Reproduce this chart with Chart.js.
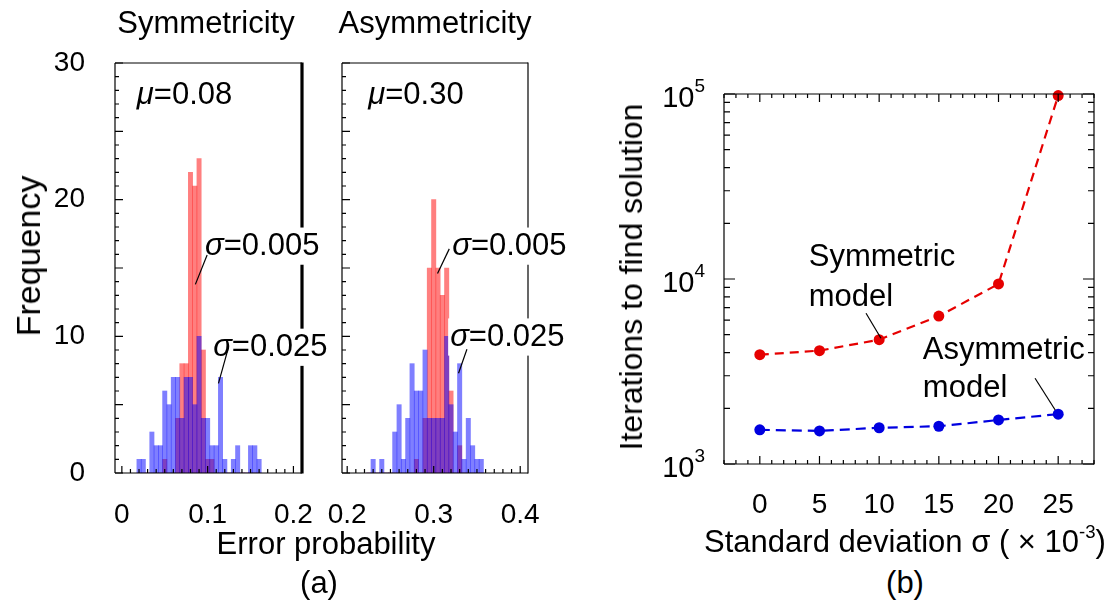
<!DOCTYPE html>
<html>
<head>
<meta charset="utf-8">
<script src="https://cdn.jsdelivr.net/npm/chart.js@4.4.1/dist/chart.umd.min.js"></script>
<style>
  body { margin: 0; background: #fff; }
  #fig { position: relative; width: 1117px; height: 603px; overflow: hidden;
         font-family: "Liberation Sans", Arial, sans-serif; color: #000; }
  #fig canvas { position: absolute; top: 0; }
  .lbl { position: absolute; white-space: nowrap; font-size: 31px; line-height: 1;
         transform: translate(-50%, -50%); }
  .rot { transform: translate(-50%, -50%) rotate(-90deg); }
  .lbl sup { font-size: 60%; vertical-align: 0.7em; line-height: 0; }
</style>
</head>
<body>
<div id="fig">
  <canvas id="histSym" width="340" height="530" style="left:0px"></canvas>
  <canvas id="histAsym" width="265" height="530" style="left:320px"></canvas>
  <canvas id="iterChart" width="527" height="530" style="left:590px"></canvas>

  <div class="lbl" style="left:206px;top:22px">Symmetricity</div>
  <div class="lbl" style="left:435px;top:22px">Asymmetricity</div>
  <div class="lbl rot" style="left:28px;top:256px;font-size:34px">Frequency</div>
  <div class="lbl" style="left:326px;top:543px">Error probability</div>
  <div class="lbl" style="left:319px;top:582px">(a)</div>
  <div class="lbl rot" style="left:631px;top:277px;font-size:32px">Iterations to find solution</div>
  <div class="lbl" style="left:905px;top:541px">Standard deviation σ ( × 10<sup>-3</sup>)</div>
  <div class="lbl" style="left:905px;top:582px">(b)</div>
</div>
<script>
// ---- data ----
// (a) left: symmetric model, bins of 0.005 (bin centres)
const symBins = [0.02, 0.025, 0.03, 0.035, 0.04, 0.045, 0.05, 0.055, 0.06, 0.065,
                 0.07, 0.075, 0.08, 0.085, 0.09, 0.095, 0.1, 0.105, 0.11, 0.115,
                 0.12, 0.125, 0.13, 0.135, 0.14, 0.145, 0.15, 0.155, 0.16];
const symNarrow = [0, 0, 0, 0, 0, 0, 1, 0, 0, 4,
                   8, 8, 22, 21, 23, 9, 1, 1, 0, 0,
                   0, 0, 0, 0, 0, 0, 0, 0, 0];           // sigma = 0.005
const symWide   = [1, 1, 0, 3, 2, 2, 6, 5, 7, 7,
                   4, 7, 7, 5, 10, 4, 4, 2, 2, 7,
                   1, 0, 1, 2, 0, 0, 2, 2, 1];           // sigma = 0.025

// (a) right: asymmetric model
const asymBins = [0.225, 0.23, 0.235, 0.24, 0.245, 0.25, 0.255, 0.26, 0.265, 0.27,
                  0.275, 0.28, 0.285, 0.29, 0.295, 0.3, 0.305, 0.31, 0.315, 0.32,
                  0.325, 0.33, 0.335, 0.34, 0.345, 0.35, 0.355];
const asymNarrow = [0, 0, 0, 0, 0, 0, 0, 0, 0, 0,
                    0, 1, 0, 4, 15, 20, 15, 13, 15, 6,
                    0, 2, 0, 0, 0, 0, 0];
const asymWide   = [0, 1, 0, 1, 0, 0, 3, 5, 1, 4,
                    8, 6, 6, 9, 4, 4, 4, 4, 10, 5,
                    3, 8, 1, 4, 2, 1, 1];

// (b) iterations vs sigma (x10^-3)
const sigmaVals = [0, 5, 10, 15, 20, 25];
const symIters  = [3900, 4100, 4700, 6300, 9400, 98000];
const asymIters = [1530, 1510, 1570, 1600, 1730, 1860];

// ---- helpers ----
Chart.defaults.font.family = '"Liberation Sans", Arial, sans-serif';
Chart.defaults.color = '#000';

function onStep(v, step) {
  const r = v / step;
  return Math.abs(r - Math.round(r)) < 1e-6;
}

// keep the plot box exactly where the axis widths put it
function noPad(s) {
  s.paddingLeft = 0; s.paddingRight = 0; s.paddingTop = 0; s.paddingBottom = 0;
}

function drawNote(chart, n) {
  const ctx = chart.ctx;
  const x0 = chart.scales.x.getPixelForValue(n.x);
  const y0 = chart.scales.y.getPixelForValue(n.y);
  const size = n.size || 31;
  const fam = Chart.defaults.font.family;
  ctx.save();
  ctx.textBaseline = 'middle';
  const parts = n.parts.map(p => {
    ctx.font = (p[1] ? 'italic ' : '') + size + 'px ' + fam;
    return {s: p[0], it: p[1], w: ctx.measureText(p[0]).width};
  });
  const total = parts.reduce((a, p) => a + p.w, 0);
  if (n.bg) {
    ctx.fillStyle = '#fff';
    ctx.fillRect(x0 - 2, y0 - size * 0.6, total + 4, size * 1.2);
  }
  ctx.fillStyle = '#000';
  let x = x0;
  parts.forEach(p => {
    ctx.font = (p.it ? 'italic ' : '') + size + 'px ' + fam;
    ctx.fillText(p.s, x, y0);
    x += p.w;
  });
  if (n.line) {
    ctx.strokeStyle = '#000';
    ctx.lineWidth = 1.2;
    ctx.beginPath();
    ctx.moveTo(chart.scales.x.getPixelForValue(n.line[0]), chart.scales.y.getPixelForValue(n.line[1]));
    ctx.lineTo(chart.scales.x.getPixelForValue(n.line[2]), chart.scales.y.getPixelForValue(n.line[3]));
    ctx.stroke();
  }
  ctx.restore();
}

// "10" with a raised exponent, at every power of ten on a log axis
function drawPowerLabels(chart, gap) {
  const {ctx, chartArea: a} = chart;
  const ys = chart.scales.y;
  const fam = Chart.defaults.font.family;
  ctx.save();
  ctx.fillStyle = '#000';
  ctx.textBaseline = 'middle';
  ys.ticks.forEach(t => {
    const e = Math.log10(t.value);
    if (!onStep(e, 1)) return;
    const py = ys.getPixelForValue(t.value);
    const exp = String(Math.round(e));
    ctx.font = '19px ' + fam;
    const ew = ctx.measureText(exp).width;
    ctx.textAlign = 'left';
    ctx.fillText(exp, a.left - gap - ew, py - 7);
    ctx.font = '29px ' + fam;
    ctx.textAlign = 'right';
    ctx.fillText('10', a.left - gap - ew, py + 5);
  });
  ctx.restore();
}

// inward tick marks, frame and text notes
function framePlugin(cfg) {
  return {
    id: 'frame',
    afterDatasetsDraw(chart) {
      const {ctx, chartArea: a} = chart;
      const xs = chart.scales.x, ys = chart.scales.y;
      ctx.save();
      ctx.strokeStyle = '#000';
      ctx.lineWidth = 1.2;
      ctx.beginPath();
      xs.ticks.forEach(t => {
        const px = xs.getPixelForValue(t.value);
        const len = onStep(t.value, cfg.xMajor) ? cfg.xLen[1] : cfg.xLen[0];
        if (cfg.xSides.includes('bottom')) { ctx.moveTo(px, a.bottom); ctx.lineTo(px, a.bottom - len); }
        if (cfg.xSides.includes('top')) { ctx.moveTo(px, a.top); ctx.lineTo(px, a.top + len); }
      });
      ys.ticks.forEach(t => {
        const py = ys.getPixelForValue(t.value);
        const major = cfg.yMajor === 'log' ? onStep(Math.log10(t.value), 1) : onStep(t.value, cfg.yMajor);
        const len = major ? cfg.yLen[1] : cfg.yLen[0];
        if (cfg.ySides.includes('left')) { ctx.moveTo(a.left, py); ctx.lineTo(a.left + len, py); }
        if (cfg.ySides.includes('right')) { ctx.moveTo(a.right, py); ctx.lineTo(a.right - len, py); }
      });
      ctx.stroke();
      const b = cfg.border;
      const side = (w, x1, y1, x2, y2) => {
        ctx.lineWidth = w;
        ctx.beginPath(); ctx.moveTo(x1, y1); ctx.lineTo(x2, y2); ctx.stroke();
      };
      side(b.left, a.left, a.top, a.left, a.bottom);
      side(b.right, a.right, a.top - 0.5, a.right, a.bottom + 0.5);
      side(b.top, a.left, a.top, a.right, a.top);
      side(b.bottom, a.left, a.bottom, a.right, a.bottom);
      ctx.restore();
    },
    afterDraw(chart) {
      if (cfg.powerLabels) drawPowerLabels(chart, cfg.powerLabels);
      (cfg.notes || []).forEach(n => drawNote(chart, n));
    }
  };
}

function histOptions(xMin, xMax, showY, yWidth, padRight) {
  return {
    responsive: false,
    animation: false,
    events: [],
    layout: {padding: {top: 63, right: padRight, bottom: 0, left: 0}},
    plugins: {legend: {display: false}, tooltip: {enabled: false}},
    scales: {
      x: {
        type: 'linear', min: xMin, max: xMax, offset: false,
        grid: {display: false, offset: false}, border: {display: false},
        ticks: {
          stepSize: 0.01, includeBounds: false, autoSkip: false, maxRotation: 0,
          padding: 17, font: {size: 28},
          callback: v => onStep(v, 0.1) ? (Math.abs(v) < 1e-9 ? '0' : v.toFixed(1)) : ''
        },
        afterFit: s => { s.height = 57; noPad(s); }
      },
      y: {
        min: 0, max: 30,
        grid: {display: false}, border: {display: false},
        ticks: {
          display: showY, stepSize: 1, autoSkip: false, padding: 22, font: {size: 28},
          callback: v => v % 10 === 0 ? v : ''
        },
        afterFit: s => { s.width = yWidth; noPad(s); }
      }
    }
  };
}

function histData(bins, narrow, wide) {
  return {
    labels: bins,
    datasets: [
      {label: 'σ=0.005', data: narrow, backgroundColor: 'rgba(255,0,0,0.5)', order: 2,
       grouped: false, barPercentage: 1, categoryPercentage: 1, borderWidth: 0},
      {label: 'σ=0.025', data: wide, backgroundColor: 'rgba(0,0,255,0.5)', order: 1,
       grouped: false, barPercentage: 1, categoryPercentage: 1, borderWidth: 0}
    ]
  };
}

// ---- (a) symmetric ----
new Chart(document.getElementById('histSym'), {
  type: 'bar',
  data: histData(symBins, symNarrow, symWide),
  options: histOptions(-0.008, 0.21, true, 115, 38),
  plugins: [framePlugin({
    xSides: ['bottom'], ySides: ['left'], xMajor: 0.1, yMajor: 5,
    xLen: [4, 7], yLen: [4, 8],
    border: {left: 1.2, right: 3.2, top: 1, bottom: 1.2},
    notes: [
      {parts: [['μ', true], ['=0.08', false]], x: 0.0175, y: 27.6},
      {parts: [['σ', true], ['=0.005', false]], x: 0.097, y: 16.6, bg: true,
       line: [0.0994, 15.95, 0.0857, 13.8]},
      {parts: [['σ', true], ['=0.025', false]], x: 0.1064, y: 9.2, bg: true,
       line: [0.123, 8.9, 0.1126, 6.56]}
    ]
  })]
});

// ---- (a) asymmetric ----
new Chart(document.getElementById('histAsym'), {
  type: 'bar',
  data: histData(asymBins, asymNarrow, asymWide),
  options: histOptions(0.194, 0.409, false, 22, 57),
  plugins: [framePlugin({
    xSides: ['bottom'], ySides: ['left'], xMajor: 0.1, yMajor: 5,
    xLen: [4, 7], yLen: [4, 8],
    border: {left: 1.2, right: 1.2, top: 1, bottom: 1.2},
    notes: [
      {parts: [['μ', true], ['=0.30', false]], x: 0.2243, y: 27.6},
      {parts: [['σ', true], ['=0.005', false]], x: 0.3214, y: 16.6, bg: true,
       line: [0.318, 16.4, 0.3044, 14.6]},
      {parts: [['σ', true], ['=0.025', false]], x: 0.319, y: 9.95, bg: true,
       line: [0.3384, 9.05, 0.3287, 7.3]}
    ]
  })]
});

// ---- (b) iterations ----
new Chart(document.getElementById('iterChart'), {
  type: 'line',
  data: {
    datasets: [
      {label: 'Symmetric model', data: sigmaVals.map((s, i) => ({x: s, y: symIters[i]})),
       borderColor: '#e60000', backgroundColor: '#e60000', borderWidth: 2.2, borderDash: [9, 6],
       pointRadius: 5.5, pointBorderWidth: 0, clip: false},
      {label: 'Asymmetric model', data: sigmaVals.map((s, i) => ({x: s, y: asymIters[i]})),
       borderColor: '#0000e0', backgroundColor: '#0000e0', borderWidth: 2.2, borderDash: [10, 6],
       pointRadius: 5.5, pointBorderWidth: 0, clip: false}
    ]
  },
  options: {
    responsive: false,
    animation: false,
    events: [],
    layout: {padding: {top: 94, right: 23, bottom: 0, left: 0}},
    plugins: {legend: {display: false}, tooltip: {enabled: false}},
    scales: {
      x: {
        type: 'linear', min: -3, max: 28,
        grid: {display: false}, border: {display: false},
        ticks: {
          stepSize: 1, includeBounds: false, autoSkip: false, maxRotation: 0,
          padding: 16, font: {size: 28},
          callback: v => (v >= 0 && v % 5 === 0) ? v : ''
        },
        afterFit: s => { s.height = 66; noPad(s); }
      },
      y: {
        type: 'logarithmic', min: 1000, max: 100000,
        grid: {display: false}, border: {display: false},
        ticks: {display: false},
        afterBuildTicks: s => {
          s.ticks = s.ticks.filter(t => {
            const p = Math.pow(10, Math.floor(Math.log10(t.value) + 1e-9));
            return onStep(t.value / p, 1);
          });
        },
        afterFit: s => { s.width = 134; noPad(s); }
      }
    }
  },
  plugins: [framePlugin({
    xSides: ['bottom', 'top'], ySides: ['left', 'right'], xMajor: 5, yMajor: 'log',
    xLen: [4, 8], yLen: [6, 11],
    border: {left: 1.2, right: 1.2, top: 1.2, bottom: 1.2},
    powerLabels: 19,
    notes: [
      {parts: [['Symmetric', false]], x: 4.1, y: 13150},
      {parts: [['model', false]], x: 4.1, y: 7990},
      {parts: [['Asymmetric', false]], x: 13.66, y: 4132},
      {parts: [['model', false]], x: 13.66, y: 2566},
      {parts: [], x: 0, y: 1000, line: [8.9, 6525, 10.15, 4780]},
      {parts: [], x: 0, y: 1000, line: [23.06, 2906, 24.75, 1958]}
    ]
  })]
});
</script>
</body>
</html>
